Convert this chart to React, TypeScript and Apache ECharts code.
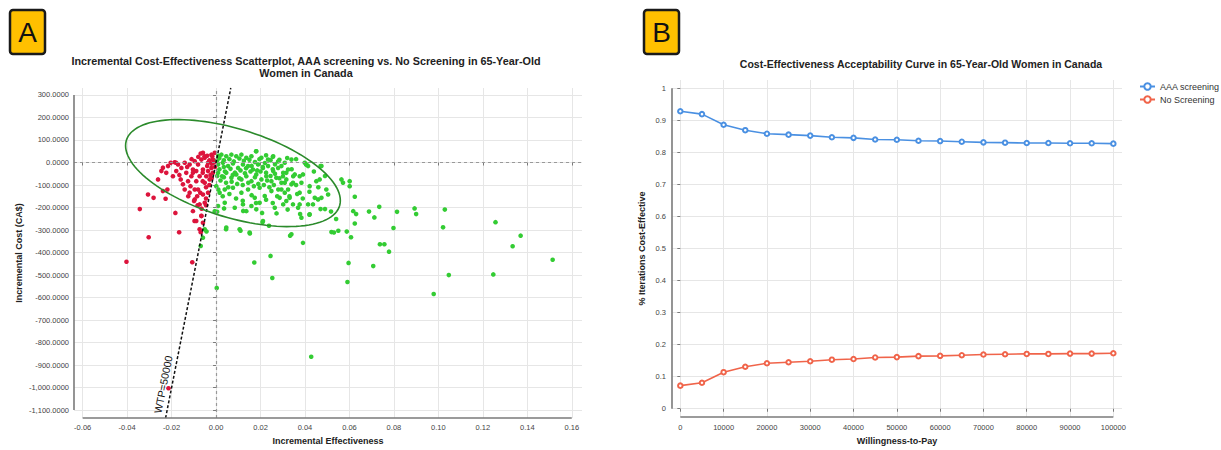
import React, { useEffect, useRef } from "react";
import * as echarts from "echarts";

// ---------- Panel A data ----------
const ICE_X_TICKS = [-0.06, -0.04, -0.02, 0, 0.02, 0.04, 0.06, 0.08, 0.1, 0.12, 0.14, 0.16];
const ICE_Y_TICKS = [-1100, -1000, -900, -800, -700, -600, -500, -400, -300, -200, -100, 0, 100, 200, 300];
const WTP_THRESHOLD = 50000;

// iterations where AAA screening is NOT cost-effective at WTP=50000 (red)
const NOT_COST_EFFECTIVE: number[][] = [
  [-0.0403, -441], [-0.0343, -207], [-0.0303, -332], [-0.0183, -224], [-0.0166, -310], [-0.0097, -260],
  [-0.0083, -190], [-0.0107, -443], [-0.0069, -310], [-0.0066, -237], [-0.0059, -268], [-0.0214, -1003],
  [-0.0261, -75], [-0.0306, -142], [-0.0281, -157], [-0.0239, -127], [-0.0219, -120], [-0.0227, -161],
  [-0.0246, -38], [-0.0239, -23], [-0.0224, -46], [-0.0216, -16], [-0.0204, -1], [-0.0186, 1],
  [-0.0171, -9], [-0.0179, -38], [-0.0194, -61], [-0.0156, -24], [-0.0141, -1], [-0.0134, -46],
  [-0.0159, -75], [-0.0149, -97], [-0.0126, -83], [-0.0111, -61], [-0.0104, -31], [-0.0096, 6],
  [-0.0081, -9], [-0.0066, 13], [-0.0089, -38], [-0.0074, -61], [-0.006, -46], [-0.0096, -120],
  [-0.0119, -134], [-0.0141, -120], [-0.0071, -134], [-0.0099, -171], [-0.006, -83], [-0.0059, 43],
  [-0.0051, 21], [-0.0119, -9], [-0.0036, -1], [-0.0014, 13], [-0.0021, 35], [-0.0006, 43],
  [-0.0059, -31], [-0.0036, -38], [-0.0021, -24], [-0.0014, -46], [-0.0044, -61], [-0.0104, -46],
  [-0.0089, -83], [-0.0051, -90], [-0.0029, -75], [-0.0081, -120], [-0.0059, -142], [-0.0036, -134],
  [-0.0096, -164], [-0.0074, -186], [-0.0051, -179], [-0.0104, -216], [-0.0066, -238], [-0.0089, -260],
  [-0.0074, -297], [-0.0069, 40], [-0.0052, 28], [-0.0017, 28], [-0.018, -1], [-0.003, 10],
  [-0.004, -15], [-0.002, -5], [-0.001, 0], [-0.0025, -55], [-0.003, -100], [-0.002, -70],
  [-0.0045, -110], [-0.0005, -20], [-0.004, 30], [-0.008, 25], [-0.011, 15], [-0.013, -20],
  [-0.0115, -105], [-0.0165, -55], [-0.0125, -150], [-0.0085, -150], [-0.0065, -205], [-0.0045, -160],
  [-0.0045, -190],
];

// iterations where AAA screening IS cost-effective at WTP=50000 (green)
const COST_EFFECTIVE: number[][] = [
  [0.0893, -204], [0.09, -229], [0.1029, -209], [0.0814, -219], [0.0734, -197], [0.0688, -218],
  [0.0712, -244], [0.0617, -216], [0.063, -229], [0.0624, -271], [0.0798, -291], [0.1021, -288],
  [0.1257, -265], [0.137, -325], [0.1334, -372], [0.1514, -432], [0.1247, -497], [0.1047, -500],
  [0.0979, -584], [0.0707, -460], [0.0778, -396], [0.0737, -363], [0.0757, -363], [0.0596, -446],
  [0.0591, -531], [0.0607, -332], [0.0588, -307], [0.055, -303], [0.0519, -309], [0.053, -311],
  [0.054, -251], [0.0517, -218], [0.049, -207], [0.047, -207], [0.042, -232], [0.0428, -863],
  [0.0391, -357], [0.0333, -325], [0.0253, -513], [0.0245, -415], [0.0172, -444], [0.0238, -281],
  [0.0209, -265], [0.0152, -315], [0.011, -303], [0.0045, -296], [0.0003, -557], [-0.0043, -306],
  [-0.0069, -371], [0.0005, -219], [0.0036, -204], [0.0207, -224], [0.0272, -226], [0.0378, -229],
  [0.0322, -209], [0.0122, -215],
  [0.0294, -16], [0.0301, -61], [0.0309, -90], [0.0294, -120], [0.0316, -46], [0.0324, -120],
  [0.0316, -171], [0.0346, -186], [0.0354, -53], [0.0346, -90], [0.0376, -61], [0.0391, -53],
  [0.0384, -90], [0.0376, -134], [0.0399, -1], [0.0406, -9], [0.0414, -16], [0.0421, -105],
  [0.0451, -83], [0.0466, -75], [0.0474, -16], [0.0444, -157], [0.0459, -164], [0.0474, -157],
  [0.0496, -120], [0.0504, -142], [0.0436, -186], [0.0414, -186], [0.0376, -186], [0.0369, -201],
  [0.0384, -245], [0.0421, -230], [0.0564, -75], [0.0571, -90], [0.0601, -83], [0.0601, -105],
  [0.0624, -152],
  [0.0024, 35], [0.0046, 28], [0.0069, 35], [0.0091, 28], [0.0114, 35], [0.0136, 21],
  [0.0159, 28], [0.0181, 50], [0.0204, 21], [0.0234, 13], [0.0257, 28], [0.0279, 5],
  [0.0309, -1], [0.0339, 13], [0.0009, -9], [0.0031, -1], [0.0054, -16], [0.0076, -4],
  [0.0099, -24], [0.0121, -9], [0.0144, -16], [0.0166, -31], [0.0189, -9], [0.0211, -24],
  [0.0234, -16], [0.0257, -38], [0.0279, -24], [0.0302, -46], [0.0324, -31], [0.0347, -61],
  [0.0009, -46], [0.0027, -61], [0.0046, -46], [0.0069, -68], [0.0091, -53], [0.0114, -75],
  [0.0136, -61], [0.0159, -83], [0.0181, -53], [0.0204, -75], [0.0226, -61], [0.0249, -83],
  [0.0271, -68], [0.0294, -90], [0.0316, -75], [0.0339, -97], [0.0001, -105], [0.0016, -134],
  [0.0039, -120], [0.0076, -112], [0.0114, -134], [0.0144, -120], [0.0174, -157], [0.0196, -112],
  [0.0219, -149], [0.0249, -127], [0.0286, -157], [0.0309, -134], [0.0331, -157], [0.0009, -193],
  [-0.0006, -216], [0.0039, -179], [0.0084, -201], [0.0121, -186], [0.0136, -216], [0.0159, -193],
  [0.0196, -179], [0.0264, -201], [0.0302, -186], [0.0181, -208], [0.0211, -260], [0.0046, -289],
  [0.0106, -297], [0.0151, -311], [-0.0051, -297], [-0.0059, -334], [0.0339, -319],
  [0.018, 50], [0.0405, -9], [0.047, -16],
  [0.0015, 20], [0.0035, 10], [0.006, 15], [0.008, 5], [0.0105, 18], [0.0125, 8],
  [0.015, 12], [0.0175, 2], [0.0195, 15], [0.022, -2], [0.0245, 10], [0.0265, -8],
  [0.0285, 12], [0.0015, -30], [0.004, -40], [0.0065, -28], [0.0085, -45], [0.011, -35],
  [0.013, -48], [0.0155, -40], [0.0175, -65], [0.02, -40], [0.0225, -45], [0.0245, -60],
  [0.0265, -50], [0.0285, -70], [0.002, -80], [0.0045, -90], [0.007, -85], [0.0095, -95],
  [0.012, -100], [0.0145, -90], [0.017, -105], [0.019, -95], [0.0215, -100], [0.024, -110],
  [0.026, -100], [0.028, -120], [0.0005, -60], [0.001, -120], [0.003, -150], [0.006, -140],
  [0.009, -160], [0.012, -170], [0.016, -145], [0.018, -180], [0.0225, -165], [0.0255, -180],
  [0.0275, -150], [0.0035, -20], [0.0005, 10], [0.001, 30], [0.0035, -65], [0.0055, -110],
  [0.0075, -55], [0.0105, -70], [0.0135, -25], [0.016, -15], [0.0185, -35], [0.021, -20],
  [0.023, -80], [0.0255, -30], [0.034, -30], [0.036, -100], [0.033, -150], [0.039, -160],
  [0.044, -40], [0.046, -110], [0.049, -60], [0.042, -130], [0.036, 15], [0.032, 20],
  [0.0255, 25], [0.0225, 32], [0.0365, -140],
];

// 95% confidence ellipse: centre and conjugate semi-axis vectors (data units)
const ELLIPSE_CENTER = [0.0076, -47];
const ELLIPSE_AXIS_U = [0.0483, -122];
const ELLIPSE_AXIS_V = [0, 204];

// ---------- Panel B data ----------
const WTP_VALUES = [0, 5000, 10000, 15000, 20000, 25000, 30000, 35000, 40000, 45000, 50000,
  55000, 60000, 65000, 70000, 75000, 80000, 85000, 90000, 95000, 100000];
const AAA_SCREENING = [0.928, 0.919, 0.886, 0.869, 0.858, 0.855, 0.852, 0.847, 0.845, 0.84, 0.839,
  0.836, 0.835, 0.833, 0.831, 0.83, 0.829, 0.829, 0.828, 0.828, 0.827];
const NO_SCREENING = [0.072, 0.081, 0.114, 0.131, 0.142, 0.145, 0.148, 0.153, 0.155, 0.16, 0.161,
  0.164, 0.165, 0.167, 0.169, 0.17, 0.171, 0.171, 0.172, 0.172, 0.173];
const CEAC_X_TICKS = [0, 10000, 20000, 30000, 40000, 50000, 60000, 70000, 80000, 90000, 100000];
const CEAC_Y_TICKS = [0, 0.1, 0.2, 0.3, 0.4, 0.5, 0.6, 0.7, 0.8, 0.9, 1];

const FONT = "'Liberation Sans', Arial, Helvetica, sans-serif";

export default function App() {
  const ref = useRef<HTMLDivElement>(null);

  useEffect(() => {
    document.body.style.margin = "0";
    if (!ref.current) return;
    const chart = echarts.init(ref.current, undefined, { renderer: "svg" });

    const aXMin = -0.0639, aXMax = 0.1646, aYMin = -1135, aYMax = 331;
    const bXMin = -1920, bXMax = 102000, bYMin = -0.0258, bYMax = 1.0255;

    const axisLineStyle = { color: "#7a7a7a", width: 1.6, type: "solid" as const };
    const gridLine = { lineStyle: { color: "#e6e6e6", width: 1 } };
    const tickLabel = { fontSize: 7.5, color: "#444", fontFamily: FONT };
    const axisName = { fontSize: 9, fontWeight: "bold" as const, color: "#222", fontFamily: FONT };

    const badge = (x: number, letter: string) => ({
      type: "group",
      children: [
        {
          type: "rect",
          shape: { x, y: 10, width: 35, height: 44, r: 3 },
          style: { fill: "#FFC000", stroke: "#1a1a1a", lineWidth: 2.5 },
        },
        {
          type: "text",
          x: x + 17.5,
          y: 32,
          style: {
            text: letter, font: `28px ${FONT}`, fill: "#111",
            align: "center", verticalAlign: "middle", textAlign: "center", textVerticalAlign: "middle",
          },
        },
      ],
    });

    const option: any = {
      animation: false,
      textStyle: { fontFamily: FONT },
      graphic: [
        badge(10, "A"),
        badge(644, "B"),
        {
          type: "text",
          x: 306,
          y: 55,
          style: {
            text: "Incremental Cost-Effectiveness Scatterplot, AAA screening vs. No Screening in 65-Year-Old\nWomen in Canada",
            font: `bold 10.8px ${FONT}`, fill: "#222", lineHeight: 11.8,
            align: "center", verticalAlign: "top", textAlign: "center", textVerticalAlign: "top",
          },
        },
        {
          type: "text",
          x: 921,
          y: 58,
          style: {
            text: "Cost-Effectiveness Acceptability Curve in 65-Year-Old Women in Canada",
            font: `bold 10.5px ${FONT}`, fill: "#222",
            align: "center", verticalAlign: "top", textAlign: "center", textVerticalAlign: "top",
          },
        },
      ],
      legend: {
        data: ["AAA screening", "No Screening"],
        orient: "vertical",
        left: 1134,
        top: 77,
        itemWidth: 15,
        itemHeight: 8,
        itemGap: 4,
        textStyle: { fontSize: 9, color: "#333", fontFamily: FONT },
      },
      grid: [
        { left: 74, top: 88, width: 508, height: 332 },
        { left: 672, top: 80, width: 450, height: 342 },
      ],
      xAxis: [
        {
          gridIndex: 0, type: "value", min: aXMin, max: aXMax,
          axisLine: { show: false },
          axisTick: { show: true, customValues: ICE_X_TICKS, length: 3, lineStyle: { color: "#7a7a7a" } },
          axisLabel: { customValues: ICE_X_TICKS, formatter: (v: number) => v.toFixed(2), margin: 5, ...tickLabel },
          splitLine: { show: true, ...gridLine },
          name: "Incremental Effectiveness", nameLocation: "middle", nameGap: 18, nameTextStyle: axisName,
        },
        {
          gridIndex: 1, type: "value", min: bXMin, max: bXMax,
          axisLine: { show: false },
          axisTick: { show: true, customValues: CEAC_X_TICKS, length: 3, lineStyle: { color: "#7a7a7a" } },
          axisLabel: { customValues: CEAC_X_TICKS, formatter: (v: number) => String(v), margin: 6, ...tickLabel },
          splitLine: { show: true, ...gridLine },
          name: "Willingness-to-Pay", nameLocation: "middle", nameGap: 19, nameTextStyle: axisName,
        },
      ],
      yAxis: [
        {
          gridIndex: 0, type: "value", min: aYMin, max: aYMax,
          axisLine: { show: false },
          axisTick: { show: true, customValues: ICE_Y_TICKS, length: 3, lineStyle: { color: "#7a7a7a" } },
          axisLabel: {
            customValues: ICE_Y_TICKS, margin: 5, ...tickLabel,
            formatter: (v: number) => v.toLocaleString("en-US", { minimumFractionDigits: 4, maximumFractionDigits: 4 }),
          },
          splitLine: { show: true, ...gridLine },
          name: "Incremental Cost (CA$)", nameLocation: "middle", nameGap: 51, nameTextStyle: axisName,
        },
        {
          gridIndex: 1, type: "value", min: bYMin, max: bYMax,
          axisLine: { show: false },
          axisTick: { show: true, customValues: CEAC_Y_TICKS, length: 3, lineStyle: { color: "#7a7a7a" } },
          axisLabel: { customValues: CEAC_Y_TICKS, formatter: (v: number) => String(v), margin: 6, ...tickLabel },
          splitLine: { show: true, ...gridLine },
          name: "% Iterations Cost-Effective", nameLocation: "middle", nameGap: 26, nameTextStyle: axisName,
        },
      ],
      series: [
        {
          name: "Cost-effective", type: "scatter", xAxisIndex: 0, yAxisIndex: 0,
          data: COST_EFFECTIVE, symbolSize: 4.6, itemStyle: { color: "#33cc33", opacity: 1 },
          silent: true, z: 3,
          markLine: {
            silent: true, symbol: "none", label: { show: false },
            lineStyle: { color: "#999", width: 1.2, type: [3, 3] },
            data: [{ xAxis: 0 }, { yAxis: 0 }],
          },
        },
        {
          name: "Not cost-effective", type: "scatter", xAxisIndex: 0, yAxisIndex: 0,
          data: NOT_COST_EFFECTIVE, symbolSize: 4.6, itemStyle: { color: "#dc143c", opacity: 1 },
          silent: true, z: 4,
          markLine: {
            silent: true, symbol: "none",
            lineStyle: { color: "#111", width: 1.5, type: [3, 2] },
            label: {
              show: true, formatter: "WTP=" + WTP_THRESHOLD, position: "insideStartTop",
              fontSize: 10.5, color: "#111", fontFamily: FONT, distance: 3,
            },
            data: [[
              { coord: [aYMin / WTP_THRESHOLD, aYMin] },
              { coord: [aYMax / WTP_THRESHOLD, aYMax] },
            ]],
          },
        },
        {
          name: "Ellipse", type: "custom", xAxisIndex: 0, yAxisIndex: 0,
          data: [ELLIPSE_CENTER], silent: true, z: 5,
          renderItem: (_p: any, api: any) => {
            const pts: number[][] = [];
            for (let i = 0; i <= 120; i++) {
              const t = (i / 120) * Math.PI * 2;
              const c = Math.cos(t), s = Math.sin(t);
              pts.push(api.coord([
                ELLIPSE_CENTER[0] + ELLIPSE_AXIS_U[0] * c + ELLIPSE_AXIS_V[0] * s,
                ELLIPSE_CENTER[1] + ELLIPSE_AXIS_U[1] * c + ELLIPSE_AXIS_V[1] * s,
              ]));
            }
            return { type: "polyline", shape: { points: pts }, style: { fill: "none", stroke: "#2b8a2b", lineWidth: 1.6 } };
          },
          markLine: {
            silent: true, symbol: "none", label: { show: false },
            lineStyle: axisLineStyle,
            data: [
              [{ coord: [ICE_X_TICKS[0], aYMin] }, { coord: [ICE_X_TICKS[ICE_X_TICKS.length - 1], aYMin] }],
              [{ coord: [aXMin, ICE_Y_TICKS[0]] }, { coord: [aXMin, ICE_Y_TICKS[ICE_Y_TICKS.length - 1]] }],
            ],
          },
        },
        {
          name: "AAA screening", type: "line", xAxisIndex: 1, yAxisIndex: 1,
          data: WTP_VALUES.map((w, i) => [w, AAA_SCREENING[i]]),
          symbol: "emptyCircle", symbolSize: 4.5, showSymbol: true,
          lineStyle: { color: "#4a90e2", width: 1.6 }, itemStyle: { color: "#4a90e2" },
          silent: true,
          markLine: {
            silent: true, symbol: "none", label: { show: false },
            lineStyle: axisLineStyle,
            data: [
              [{ coord: [CEAC_X_TICKS[0], bYMin] }, { coord: [CEAC_X_TICKS[CEAC_X_TICKS.length - 1], bYMin] }],
              [{ coord: [bXMin, CEAC_Y_TICKS[0]] }, { coord: [bXMin, CEAC_Y_TICKS[CEAC_Y_TICKS.length - 1]] }],
            ],
          },
        },
        {
          name: "No Screening", type: "line", xAxisIndex: 1, yAxisIndex: 1,
          data: WTP_VALUES.map((w, i) => [w, NO_SCREENING[i]]),
          symbol: "emptyCircle", symbolSize: 4.5, showSymbol: true,
          lineStyle: { color: "#f0644a", width: 1.6 }, itemStyle: { color: "#f0644a" },
          silent: true,
        },
      ],
    };

    chart.setOption(option);
    return () => chart.dispose();
  }, []);

  return <div ref={ref} style={{ width: 1221, height: 450, background: "#fff" }} />;
}
